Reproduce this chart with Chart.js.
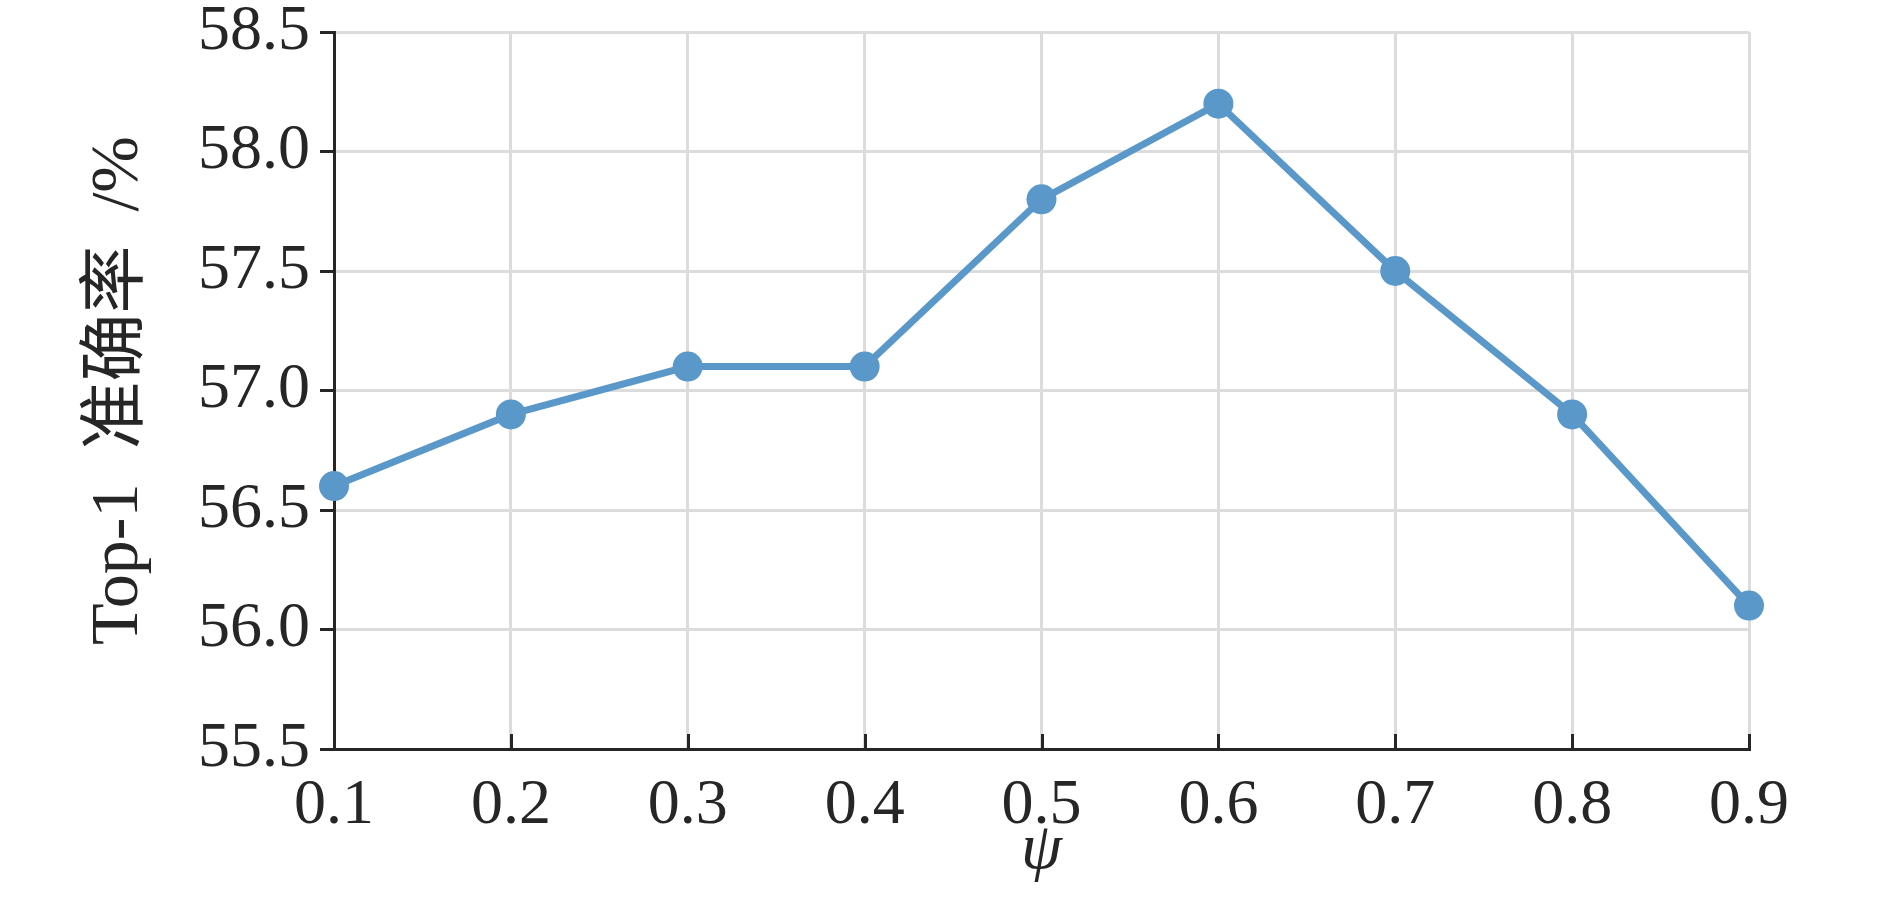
<!DOCTYPE html>
<html>
<head>
<meta charset="utf-8">
<title>Top-1 准确率 vs ψ</title>
<script src="https://cdn.jsdelivr.net/npm/chart.js@4.4.1/dist/chart.umd.min.js"></script>
<style>
  html, body { margin: 0; padding: 0; background: #fff; }
  #wrap { width: 1890px; height: 910px; }
</style>
</head>
<body>
<div id="wrap"><canvas id="accChart" width="1890" height="910"></canvas></div>
<script>
// values
const psiLabels = ['0.1', '0.2', '0.3', '0.4', '0.5', '0.6', '0.7', '0.8', '0.9'];
const top1Acc = [56.6, 56.9, 57.1, 57.1, 57.8, 58.2, 57.5, 56.9, 56.1];
const yMin = 55.5;
const yMax = 58.5;
const yStep = 0.5;

const serif = "'Liberation Serif', 'DejaVu Serif', 'Noto Sans CJK SC', serif";
const lineColor = '#5a98c9';
const axisColor = '#262626';
const gridColor = '#dcdcdc';

// x ticks in the reference point inward, chart.js only draws them outward
const inwardTicks = {
    id: 'inwardTicks',
    afterDatasetsDraw(chart) {
        const xs = chart.scales.x;
        const ctx = chart.ctx;
        ctx.save();
        ctx.strokeStyle = axisColor;
        ctx.lineWidth = 3;
        xs.ticks.forEach((t, i) => {
            const px = Math.round(xs.getPixelForTick(i)) + 0.5;
            ctx.beginPath();
            ctx.moveTo(px, xs.top);
            ctx.lineTo(px, xs.top - 15);
            ctx.stroke();
        });
        ctx.restore();
    }
};

const data = {
    labels: psiLabels,
    datasets: [{
        data: top1Acc,
        borderColor: lineColor,
        backgroundColor: lineColor,
        borderWidth: 7,
        pointRadius: 15,
        pointHoverRadius: 15,
        pointBorderWidth: 0,
        clip: false,
        tension: 0
    }]
};

const config = {
    type: 'line',
    data: data,
    options: {
        responsive: false,
        animation: false,
        events: [],
        layout: {
            padding: { top: 32, right: 141, bottom: 0, left: 0 }
        },
        plugins: {
            legend: { display: false },
            tooltip: { enabled: false }
        },
        scales: {
            x: {
                type: 'category',
                offset: false,
                afterFit(scale) { scale.height = 161; },
                border: { display: true, color: axisColor, width: 3 },
                grid: { color: gridColor, lineWidth: 3, drawTicks: false },
                ticks: {
                    color: axisColor,
                    padding: 19,
                    maxRotation: 0,
                    font: { family: serif, size: 64 }
                },
                title: {
                    display: true,
                    text: 'ψ',
                    color: axisColor,
                    padding: { top: 0, bottom: 20 },
                    font: { family: serif, size: 66, style: 'italic' }
                }
            },
            y: {
                min: yMin,
                max: yMax,
                afterFit(scale) {
                    scale.width = 334;
                    // let the 58.5 label overhang instead of pushing the plot down
                    scale.paddingTop = 0;
                    scale.paddingBottom = 0;
                },
                border: { display: true, color: axisColor, width: 3 },
                grid: {
                    color: gridColor,
                    lineWidth: 3,
                    drawTicks: true,
                    tickLength: 14,
                    tickColor: axisColor,
                    tickWidth: 3
                },
                ticks: {
                    stepSize: yStep,
                    color: axisColor,
                    padding: 10,
                    font: { family: serif, size: 64 },
                    callback: (v) => Number(v).toFixed(1)
                },
                title: {
                    display: true,
                    text: 'Top-1\u2002准确率\u2002/%',
                    color: axisColor,
                    padding: { top: 78, bottom: 0 },
                    font: { family: serif, size: 68 }
                }
            }
        }
    },
    plugins: [inwardTicks]
};

const accCanvas = document.getElementById('accChart');
const accChart = new Chart(accCanvas, config);
</script>
</body>
</html>
